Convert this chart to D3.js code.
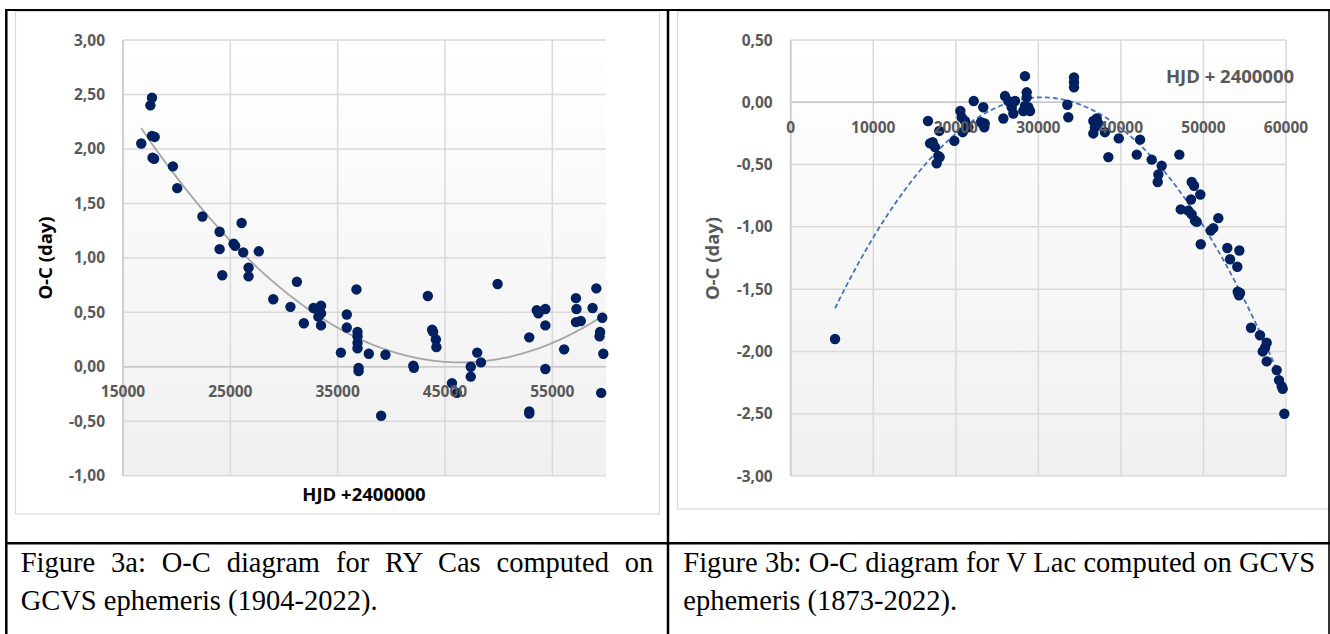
<!DOCTYPE html>
<html>
<head>
<meta charset="utf-8">
<script src="https://cdn.jsdelivr.net/npm/d3@7"></script>
<style>
  body { margin: 0; background: #fff; }
  svg { display: block; }
</style>
</head>
<body>
<svg id="page"></svg>
<script>
// ===========================
// 1. Data
// ===========================

// Figure 3a: RY Cas, HJD - 2400000 and O-C in days
const ryHjd = [16700, 17700, 17550, 17700, 17950, 17750, 17900, 19650, 20050, 22400,
  24000, 24000, 24250, 25300, 25450, 26050, 26200, 27650, 26700, 26700,
  29000, 30600, 31200, 31850, 32750, 33450, 33450, 33450, 33200, 35300,
  35850, 35850, 36750, 36850, 36850, 36850, 36850, 36950, 36950, 37900,
  39050, 39450, 42050, 42100, 43400, 43800, 43900, 44150, 44200, 45650,
  46100, 47400, 47400, 48000, 48350, 49900, 52850, 52850, 52850, 53550,
  53700, 54350, 54350, 54350, 56100, 57200, 57250, 57200, 57650, 58750,
  59100, 59650, 59450, 59400, 59750, 59550];
const ryOc = [2.05, 2.47, 2.40, 2.12, 2.11, 1.92, 1.91, 1.84, 1.64, 1.38,
  1.24, 1.08, 0.84, 1.13, 1.11, 1.32, 1.05, 1.06, 0.91, 0.83,
  0.62, 0.55, 0.78, 0.40, 0.54, 0.56, 0.49, 0.38, 0.46, 0.13,
  0.48, 0.36, 0.71, 0.32, 0.28, 0.22, 0.17, -0.01, -0.04, 0.12,
  -0.45, 0.11, 0.01, -0.01, 0.65, 0.34, 0.32, 0.25, 0.18, -0.15,
  -0.24, -0.09, 0.00, 0.13, 0.04, 0.76, 0.27, -0.41, -0.43, 0.52,
  0.49, 0.53, 0.38, -0.02, 0.16, 0.63, 0.53, 0.41, 0.42, 0.54,
  0.72, 0.45, 0.32, 0.28, 0.12, -0.24];
const ryXTicks = [15000, 25000, 35000, 45000, 55000];
const ryYTicks = [-1, -0.5, 0, 0.5, 1, 1.5, 2, 2.5, 3];

// Figure 3b: V Lac
const vlHjd = [5370, 16630, 16880, 17200, 17480, 17880, 18000, 18050, 17680, 19820,
  20550, 20710, 21110, 21520, 20830, 22170, 23050, 23330, 23450, 23500,
  25760, 25960, 26360, 26770, 26970, 27170, 28180, 28380, 28590, 28590,
  28790, 28990, 28380, 33510, 33630, 34320, 34320, 34320, 36660, 36860,
  36660, 37070, 37260, 38070, 38480, 39740, 41920, 42320, 43730, 44940,
  44540, 44460, 47080, 47250, 48580, 48860, 49620, 48490, 48170, 48580,
  48980, 49180, 49670, 50880, 51190, 51800, 52890, 53220, 54350, 54100,
  54150, 54430, 54310, 55760, 56850, 57660, 57460, 57180, 57660, 58870,
  59150, 59480, 59600, 59800];
const vlOc = [-1.90, -0.15, -0.33, -0.32, -0.36, -0.43, -0.23, -0.44, -0.49, -0.31,
  -0.07, -0.12, -0.15, -0.20, -0.24, 0.01, -0.16, -0.04, -0.20, -0.17,
  -0.13, 0.05, 0.01, -0.04, -0.09, 0.01, -0.07, -0.03, 0.04, 0.08,
  -0.04, -0.07, 0.21, -0.02, -0.12, 0.20, 0.16, 0.12, -0.15, -0.20,
  -0.25, -0.13, -0.17, -0.24, -0.44, -0.29, -0.42, -0.30, -0.46, -0.51,
  -0.58, -0.64, -0.42, -0.86, -0.64, -0.67, -0.74, -0.78, -0.87, -0.90,
  -0.95, -0.96, -1.14, -1.03, -1.01, -0.93, -1.17, -1.26, -1.19, -1.32,
  -1.52, -1.53, -1.55, -1.81, -1.87, -1.93, -1.97, -2.00, -2.08, -2.15,
  -2.23, -2.28, -2.30, -2.50];
const vlXTicks = [0, 10000, 20000, 30000, 40000, 50000, 60000];
const vlYTicks = [-3, -2.5, -2, -1.5, -1, -0.5, 0, 0.5];

const captionA = ["Figure 3a: O-C diagram for RY Cas computed on", "GCVS ephemeris (1904-2022)."];
const captionB = ["Figure 3b: O-C diagram for V Lac computed on GCVS", "ephemeris (1873-2022)."];

// ===========================
// 2. Page and table frame
// ===========================
const W = 1330, H = 634;
const svg = d3.select("#page").attr("width", W).attr("height", H);

const defs = svg.append("defs");
const grad = defs.append("linearGradient")
  .attr("id", "plotBg").attr("x1", 0).attr("y1", 0).attr("x2", 0).attr("y2", 1);
grad.append("stop").attr("offset", "0%").attr("stop-color", "#ffffff");
grad.append("stop").attr("offset", "100%").attr("stop-color", "#f0f0f0");

// chart boxes (light border from the spreadsheet chart objects)
svg.append("rect")
  .attr("x", 15.5).attr("y", 11.5).attr("width", 644).attr("height", 502.5)
  .attr("fill", "#fff").attr("stroke", "#d9d9d9").attr("stroke-width", 1.2);
svg.append("rect")
  .attr("x", 677.5).attr("y", 11.5).attr("width", 660).attr("height", 497.5)
  .attr("fill", "#fff").attr("stroke", "#d9d9d9").attr("stroke-width", 1.2);

// comma decimals and a plain hyphen for negatives, like the original
const comma = d3.formatLocale({ decimal: ",", thousands: "", grouping: [3], currency: ["", ""], minus: "-" });
const fmtY = comma.format(".2f");

// ===========================
// 3. Chart drawing
// ===========================
function quadFit(xs, ys) {
  // least squares 2nd order polynomial, x in units of 10000
  const u = xs.map(x => x / 10000);
  const s = [0, 0, 0, 0, 0], t = [0, 0, 0];
  u.forEach((x, i) => {
    for (let k = 0; k < 5; k++) s[k] += Math.pow(x, k);
    for (let k = 0; k < 3; k++) t[k] += ys[i] * Math.pow(x, k);
  });
  const M = [[s[0], s[1], s[2], t[0]], [s[1], s[2], s[3], t[1]], [s[2], s[3], s[4], t[2]]];
  for (let c = 0; c < 3; c++) {
    for (let r = c + 1; r < 3; r++) {
      const f = M[r][c] / M[c][c];
      for (let k = c; k < 4; k++) M[r][k] -= f * M[c][k];
    }
  }
  const b = [0, 0, 0];
  for (let r = 2; r >= 0; r--) {
    let v = M[r][3];
    for (let k = r + 1; k < 3; k++) v -= M[r][k] * b[k];
    b[r] = v / M[r][r];
  }
  return x => b[0] + b[1] * (x / 10000) + b[2] * (x / 10000) * (x / 10000);
}

function drawChart(o) {
  const g = svg.append("g");
  const x = d3.scaleLinear().domain(o.xDomain).range([o.left, o.right]);
  const y = d3.scaleLinear().domain(o.yDomain).range([o.bottom, o.top]);

  g.append("rect")
    .attr("x", o.left).attr("y", o.top)
    .attr("width", o.right - o.left).attr("height", o.bottom - o.top)
    .attr("fill", "url(#plotBg)");

  // gridlines
  g.selectAll(".hgrid").data(o.yTicks).enter().append("line")
    .attr("x1", o.left).attr("x2", o.right)
    .attr("y1", d => y(d)).attr("y2", d => y(d))
    .attr("stroke", "#d9d9d9").attr("stroke-width", 1.5);
  g.selectAll(".vgrid").data(o.xTicks).enter().append("line")
    .attr("x1", d => x(d)).attr("x2", d => x(d))
    .attr("y1", o.top).attr("y2", o.bottom)
    .attr("stroke", "#d9d9d9").attr("stroke-width", 1.5);

  // axis lines (horizontal axis crosses at 0)
  g.append("line")
    .attr("x1", o.left).attr("x2", o.right).attr("y1", y(0)).attr("y2", y(0))
    .attr("stroke", "#c8c8c8").attr("stroke-width", 1.5);
  g.append("line")
    .attr("x1", o.left).attr("x2", o.left).attr("y1", o.top).attr("y2", o.bottom)
    .attr("stroke", "#cfcfcf").attr("stroke-width", 1.8);

  // trendline
  const fit = quadFit(o.xs, o.ys);
  const x0 = d3.min(o.xs), x1 = d3.max(o.xs);
  const curve = d3.range(0, 101).map(i => x0 + (x1 - x0) * i / 100);
  g.append("path")
    .datum(curve)
    .attr("fill", "none")
    .attr("stroke", o.trendColor)
    .attr("stroke-width", 1.8)
    .attr("stroke-dasharray", o.dash)
    .attr("d", d3.line().x(d => x(d)).y(d => y(fit(d))));

  // points
  g.selectAll(".pt").data(o.xs).enter().append("circle")
    .attr("cx", d => x(d))
    .attr("cy", (d, i) => y(o.ys[i]))
    .attr("r", 5.2)
    .attr("fill", "#002060");

  // tick labels
  const lab = g.append("g")
    .style("font-family", "'Open Sans', sans-serif")
    .style("font-weight", "bold")
    .style("font-size", "15.5px")
    .attr("fill", "#595959");
  lab.selectAll(".yl").data(o.yTicks).enter().append("text")
    .attr("x", o.left - 18).attr("y", d => y(d) + 5.5)
    .attr("text-anchor", "end")
    .text(d => fmtY(d));
  lab.selectAll(".xl").data(o.xTicks).enter().append("text")
    .attr("x", d => x(d)).attr("y", y(0) + 30.5)
    .attr("text-anchor", "middle")
    .text(d => d3.format("d")(d));

  // axis titles
  const title = g.append("g")
    .style("font-family", "'Open Sans', sans-serif")
    .style("font-weight", "bold")
    .style("font-size", "18.5px")
    .attr("fill", o.titleColor);
  title.append("text")
    .attr("transform", `translate(${o.yTitleX},${o.yTitleY}) rotate(-90)`)
    .attr("text-anchor", "middle")
    .attr("dy", "0.35em")
    .text("O-C (day)");
  title.append("text")
    .attr("x", o.xTitleX).attr("y", o.xTitleY)
    .attr("text-anchor", "middle")
    .text(o.xTitle);
}

drawChart({
  xs: ryHjd, ys: ryOc, xTicks: ryXTicks, yTicks: ryYTicks,
  xDomain: [15000, 60000], yDomain: [-1, 3],
  left: 123, right: 606, top: 40, bottom: 475.7,
  trendColor: "#a6a6a6", dash: null, titleColor: "#000",
  yTitleX: 46, yTitleY: 258, xTitle: "HJD +2400000", xTitleX: 364, xTitleY: 500.5
});

drawChart({
  xs: vlHjd, ys: vlOc, xTicks: vlXTicks, yTicks: vlYTicks,
  xDomain: [0, 60000], yDomain: [-3, 0.5],
  left: 790.7, right: 1286, top: 40, bottom: 476,
  trendColor: "#4472c4", dash: "5,3", titleColor: "#595959",
  yTitleX: 713, yTitleY: 258.5, xTitle: "HJD + 2400000", xTitleX: 1230, xTitleY: 82.5
});

// ===========================
// 4. Table lines and captions
// ===========================
const frame = svg.append("g").attr("stroke", "#000");
frame.append("line").attr("x1", 5).attr("x2", 1330).attr("y1", 10).attr("y2", 10).attr("stroke-width", 2);
frame.append("line").attr("x1", 6.3).attr("x2", 6.3).attr("y1", 9).attr("y2", H).attr("stroke-width", 2.5);
frame.append("line").attr("x1", 668).attr("x2", 668).attr("y1", 9).attr("y2", H).attr("stroke-width", 2.5);
frame.append("line").attr("x1", 1329).attr("x2", 1329).attr("y1", 9).attr("y2", H).attr("stroke-width", 1.6);
frame.append("line").attr("x1", 5).attr("x2", 1330).attr("y1", 543.3).attr("y2", 543.3).attr("stroke-width", 2.5);

function caption(lines, x0, x1) {
  const g = svg.append("g")
    .style("font-family", "'Liberation Serif', 'Times New Roman', serif")
    .style("font-size", "28.5px")
    .attr("fill", "#000");
  lines.forEach((line, i) => {
    const t = g.append("text").attr("x", x0).attr("y", 572 + i * 38).text(line);
    if (i < lines.length - 1) {
      // justified line: spread the extra room over the word gaps
      const natural = t.node().getComputedTextLength();
      const gaps = line.split(" ").length - 1;
      t.attr("word-spacing", (x1 - x0 - natural) / gaps);
    }
  });
}
caption(captionA, 20.7, 653.3);
caption(captionB, 683.3, 1315);
</script>
</body>
</html>
